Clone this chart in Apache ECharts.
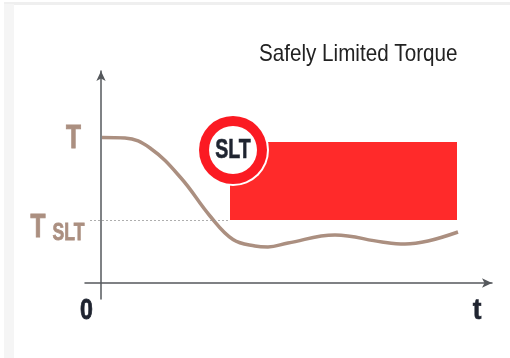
<!DOCTYPE html>
<html><head><meta charset="utf-8">
<style>html,body{margin:0;padding:0;background:#fff}
#c{width:510px;height:358px;position:relative}</style>
<script src="https://cdn.jsdelivr.net/npm/echarts@6/dist/echarts.min.js"></script>
</head><body><div id="c"></div>
<script>
const titleText = 'Safely Limited Torque';
const mainSymbol = 'T';
const limitSymbol = 'SLT';
const originLabel = '0';
const timeLabel = 't';
const curveX = [1,24,49,80,109,132,154,167,187,234,281,304,327,357];
const curveY = [145.5,145,135,105,67,43.5,37,36,40,48,41,39,42,51];
const sltLevel = 63, zoneTop = 141;
const zoneStart = 129, zoneEnd = 356, dashStart = -11;
const badge = [132, 133];
const brown = '#ab8f80', dark = '#1f2430';
const font = 'Liberation Sans';
function txt(text,x,y,size,sx,color,align,weight,stroke){
  return {type:'text',x:x,y:y,scaleX:sx,z:20,silent:true,
    style:{text:text,fontFamily:font,fontWeight:weight||'bold',fontSize:size,fill:color,
      stroke:stroke?color:null,lineWidth:stroke||0,align:align||'center',verticalAlign:'middle'}};
}
const chart = echarts.init(document.getElementById('c'), null, {renderer:'canvas'});
chart.setOption({
  animation:false,
  backgroundColor:'#fff',
  grid:{left:85,right:18,top:71,bottom:59,containLabel:false},
  graphic:[
    {type:'rect',shape:{x:4,y:2,width:506,height:3},style:{fill:'#efefef'},z:0},
    {type:'rect',shape:{x:4,y:4,width:10,height:354},style:{fill:'#f5f5f5'},z:0},
    txt(titleText,259,54,24,0.86,'#222','left','normal'),
    txt(mainSymbol,73.5,139,33.5,0.73,brown,'center','bold',1),
    txt(mainSymbol,38,228,33.5,0.73,brown,'center','bold',1),
    txt(limitSymbol,68.5,233.5,24,0.73,brown,'center','bold',0.8),
    txt(limitSymbol,233,150,28,0.70,dark,'center','bold',0.6),
    txt(originLabel,86.5,310.5,29,0.8,dark,'center','bold',0.8),
    txt(timeLabel,477,310.5,29,0.9,dark,'center','bold',0.6)
  ],
  xAxis:{type:'value',min:-16,max:391,splitLine:{show:false},axisTick:{show:false},axisLabel:{show:false},
    axisLine:{onZero:true,symbol:['none','arrow'],symbolSize:[7,10],lineStyle:{color:'#55585c',width:1.5}}},
  yAxis:{type:'value',min:-16,max:212,splitLine:{show:false},axisTick:{show:false},axisLabel:{show:false},
    axisLine:{onZero:true,symbol:['none','arrow'],symbolSize:[7,10],lineStyle:{color:'#55585c',width:1.5}}},
  series:[
    {type:'line',data:[],silent:true,z:1,
      markArea:{silent:true,itemStyle:{color:'#ff2a2a',opacity:1},data:[[{coord:[zoneStart,sltLevel]},{coord:[zoneEnd,zoneTop]}]]},
      markLine:{silent:true,symbol:'none',label:{show:false},lineStyle:{color:'#999',width:0.8,type:[2,2]},
        data:[[{coord:[dashStart,sltLevel]},{coord:[zoneStart,sltLevel]}]]}},
    {type:'line',data:curveX.map((x,i)=>[x,curveY[i]]),smooth:0.4,showSymbol:false,z:3,lineStyle:{color:brown,width:3.5}},
    {type:'scatter',data:[badge],symbol:'circle',symbolSize:72,z:4,itemStyle:{color:'#fff',opacity:1}},
    {type:'scatter',data:[badge],symbol:'circle',symbolSize:68,z:5,itemStyle:{color:'#fb1a22',opacity:1}},
    {type:'scatter',data:[badge],symbol:'circle',symbolSize:48,z:6,itemStyle:{color:'#fff',opacity:1}}
  ]
});
</script></body></html>
